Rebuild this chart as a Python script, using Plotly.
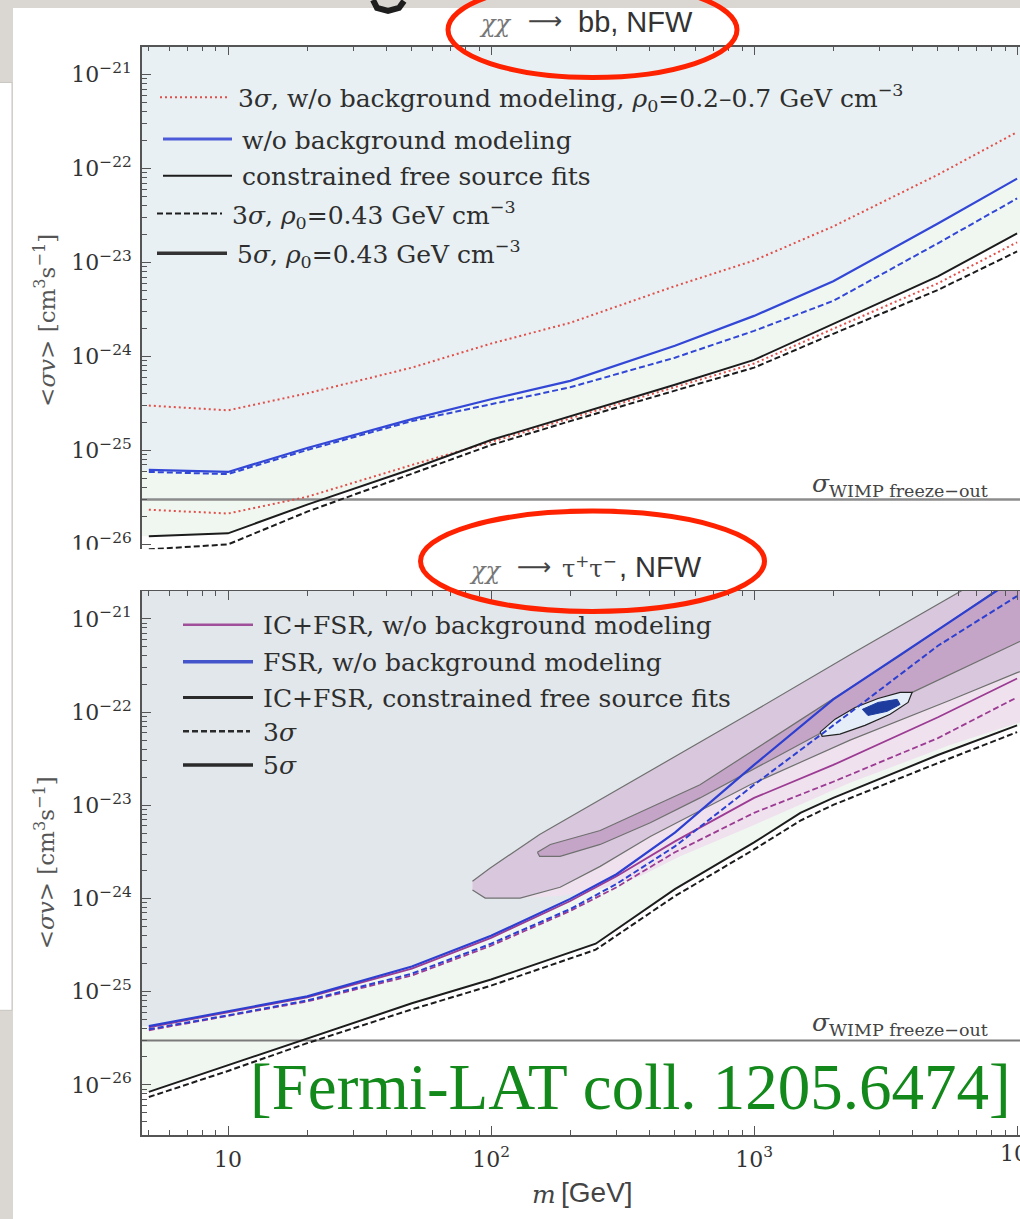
import plotly.graph_objects as go

W, H = 1020, 1219


def fx(x):
    return x / W


def fy(y):
    return 1 - y / H


# ---------------- χχ → bb, NFW ----------------
m_bb = [5, 10, 20, 50, 100, 200, 500, 1000, 2000, 5000, 10000]
bb_nobg_5s = [6.2e-26, 5.9e-26, 1.06e-25, 2.15e-25, 3.5e-25, 5.5e-25, 1.3e-24, 2.7e-24, 6.3e-24, 2.6e-23, 7.8e-23]
bb_nobg_3s = [5.9e-26, 5.6e-26, 1.01e-25, 2.05e-25, 3.1e-25, 4.7e-25, 9.7e-25, 1.87e-24, 3.9e-24, 1.6e-23, 4.8e-23]
bb_fit_5s = [1.22e-26, 1.31e-26, 2.65e-26, 6.35e-26, 1.29e-25, 2.31e-25, 5.0e-25, 9.2e-25, 2.22e-24, 7.1e-24, 2.04e-23]
bb_fit_3s = [8.85e-27, 1.0e-26, 2.23e-26, 5.6e-26, 1.14e-25, 2.05e-25, 4.35e-25, 7.6e-25, 1.74e-24, 5.1e-24, 1.31e-23]
bb_nobg_3s_rho02 = [3.0e-25, 2.67e-25, 4.05e-25, 7.6e-25, 1.37e-24, 2.28e-24, 5.6e-24, 1.05e-23, 2.42e-23, 8.6e-23, 2.44e-22]
bb_nobg_3s_rho07 = [2.34e-26, 2.13e-26, 3.21e-26, 7.0e-26, 1.23e-25, 2.2e-25, 4.7e-25, 8.4e-25, 1.97e-24, 6.0e-24, 1.64e-23]

# ---------------- χχ → τ+τ−, NFW ----------------
m_tt = [5, 10, 20, 50, 100, 200, 300, 500, 1000, 2000, 5000, 10000]
tt_fsr_5s = [4.26e-26, 6.15e-26, 8.9e-26, 1.86e-25, 3.97e-25, 9.9e-25, 1.82e-24, 5.1e-24, 2.71e-23, 1.37e-22, 7.6e-22, 2.8e-21]
tt_fsr_3s = [3.95e-26, 5.57e-26, 8.05e-26, 1.56e-25, 3.27e-25, 7.7e-25, 1.43e-24, 3.62e-24, 1.66e-23, 7.2e-23, 5.15e-22, 1.76e-21]
tt_icfsr_5s = [4.15e-26, 6.0e-26, 8.7e-26, 1.77e-25, 3.78e-25, 9.4e-25, 1.73e-24, 4.1e-24, 1.2e-23, 2.71e-23, 8.8e-23, 2.29e-22]
tt_icfsr_3s = [3.85e-26, 5.45e-26, 7.85e-26, 1.49e-25, 3.11e-25, 7.35e-25, 1.32e-24, 3.13e-24, 8.3e-24, 1.79e-23, 5.26e-23, 1.44e-22]
m_tt_fit = [5, 10, 20, 50, 100, 250, 500, 1000, 1500, 2000, 5000, 10000]
tt_fit_5s = [8.4e-27, 1.63e-26, 3.17e-26, 7.5e-26, 1.35e-25, 3.27e-25, 1.26e-24, 3.99e-24, 8.3e-24, 1.2e-23, 3.46e-23, 7.2e-23]
tt_fit_3s = [7.4e-27, 1.41e-26, 2.8e-26, 6.45e-26, 1.16e-25, 2.82e-25, 1.06e-24, 3.36e-24, 6.85e-24, 1.01e-23, 2.84e-23, 6.1e-23]

# Signal regions in the (m, <σv>) plane
outer_m = [85, 99, 153, 403, 966, 2317, 6070, 11200, 11200, 10000, 5560, 2317, 966, 403, 260, 183, 129, 95, 85]
outer_sv = [1.53e-24, 2.11e-24, 4.86e-24, 2.34e-23, 9.7e-23, 4.13e-22, 1.99e-21, 5.3e-21,
            3.0e-22, 2.65e-22, 1.34e-22, 5.0e-23, 1.66e-23, 4.62e-24, 2.21e-24, 1.32e-24, 1.01e-24, 1.01e-24, 1.23e-24]
pale_m = [85, 99, 153, 403, 966, 2317, 6070, 11200, 11200, 10000, 5560, 2317, 966, 524, 369, 260, 183, 129, 95, 85]
pale_sv = [1.53e-24, 2.11e-24, 4.86e-24, 2.34e-23, 9.7e-23, 4.13e-22, 1.99e-21, 5.3e-21,
           8.2e-23, 7.6e-23, 4.43e-23, 1.74e-23, 5.9e-24, 2.83e-24, 1.73e-24, 1.26e-24, 1.06e-24, 1.01e-24, 1.01e-24, 1.23e-24]
inner_m = [150, 168, 260, 623, 1496, 3590, 8240, 11200, 11200, 10000, 3920, 2317, 1120, 623, 403, 260, 183, 153, 150]
inner_sv = [3.13e-24, 3.8e-24, 5.36e-24, 1.66e-23, 8.2e-23, 4.03e-22, 1.99e-21, 3.67e-21,
            6.4e-22, 5.55e-22, 1.59e-22, 8.8e-23, 2.92e-23, 1.2e-23, 6.5e-24, 3.8e-24, 2.83e-24, 2.83e-24, 3.13e-24]
blob_m = [1782, 2032, 2421, 2960, 3590, 3990, 3850, 3290, 2640, 2120, 1815, 1782]
blob_sv = [6.1e-23, 8.4e-23, 1.12e-22, 1.40e-22, 1.63e-22, 1.63e-22, 1.27e-22, 9.5e-23, 7.2e-23, 5.8e-23, 5.5e-23, 6.1e-23]
core_m = [2580, 2960, 3500, 3590, 3210, 2710, 2580]
core_sv = [1.07e-22, 1.27e-22, 1.37e-22, 1.21e-22, 1.02e-22, 9.2e-23, 1.07e-22]

sv_freeze = 3e-26

y_ticks = [1e-26, 1e-25, 1e-24, 1e-23, 1e-22, 1e-21]
y_ticktext = ["10<sup>−26</sup>", "10<sup>−25</sup>", "10<sup>−24</sup>",
              "10<sup>−23</sup>", "10<sup>−22</sup>", "10<sup>−21</sup>"]
x_ticks = [10, 100, 1000, 10000]
x_ticktext = ["10", "10<sup>2</sup>", "10<sup>3</sup>", "10<sup>4</sup>"]

x_minor = [k * 10 ** e for e in range(0, 5) for k in range(2, 10)]
y_minor = [k * 10.0 ** e for e in range(-28, -20) for k in range(2, 10)]

SKY = "#e8f0f3"
SKY2 = "#e1e7ea"
MINT = "#f0f7f1"

fig = go.Figure()


def add(tr, panel):
    if panel == 2:
        tr.update(xaxis="x2", yaxis="y2")
    tr.update(hoverinfo="skip", showlegend=False)
    fig.add_trace(tr)


def above(xs, ys):
    return [4.5] + list(xs) + [11000, 11000, 4.5], [ys[0]] + list(ys) + [ys[-1], 1e-19, 1e-19]


# ---- upper panel ----
ax, ay = above(m_bb, bb_fit_5s)
add(go.Scatter(x=ax, y=ay, fill="toself", fillcolor=MINT, mode="lines", line=dict(width=0)), 1)
ax, ay = above(m_bb, bb_nobg_5s)
add(go.Scatter(x=ax, y=ay, fill="toself", fillcolor=SKY, mode="lines", line=dict(width=0)), 1)
add(go.Scatter(x=[4, 20000], y=[sv_freeze, sv_freeze], mode="lines", line=dict(color="#8c8c8c", width=2.5)), 1)
add(go.Scatter(x=m_bb, y=bb_fit_3s, mode="lines", line=dict(color="#1c1c1c", width=2, dash="6px,3px")), 1)
add(go.Scatter(x=m_bb, y=bb_nobg_3s_rho07, mode="lines", line=dict(color="#e0504a", width=2, dash="2px,3px")), 1)
add(go.Scatter(x=m_bb, y=bb_fit_5s, mode="lines", line=dict(color="#1c1c1c", width=2)), 1)
add(go.Scatter(x=m_bb, y=bb_nobg_3s_rho02, mode="lines", line=dict(color="#e0504a", width=2, dash="2px,3px")), 1)
add(go.Scatter(x=m_bb, y=bb_nobg_3s, mode="lines", line=dict(color="#3347d6", width=2, dash="6px,3px")), 1)
add(go.Scatter(x=m_bb, y=bb_nobg_5s, mode="lines", line=dict(color="#3347d6", width=2.2)), 1)

# ---- lower panel ----
ax, ay = above(m_tt_fit, tt_fit_5s)
add(go.Scatter(x=ax, y=ay, fill="toself", fillcolor=MINT, mode="lines", line=dict(width=0)), 2)
ax, ay = above(m_tt, tt_fsr_5s)
add(go.Scatter(x=ax, y=ay, fill="toself", fillcolor=SKY2, mode="lines", line=dict(width=0)), 2)
add(go.Scatter(x=pale_m, y=pale_sv, fill="toself", fillcolor="#efe2ee", mode="lines", line=dict(width=0)), 2)
add(go.Scatter(x=outer_m, y=outer_sv, fill="toself", fillcolor="#d9c8dd", mode="lines",
               line=dict(color="#707070", width=1.2)), 2)
add(go.Scatter(x=inner_m, y=inner_sv, fill="toself", fillcolor="#c4a4c7", mode="lines",
               line=dict(color="#707070", width=1.2)), 2)
add(go.Scatter(x=blob_m, y=blob_sv, fill="toself", fillcolor="#e4edf8", mode="lines",
               line=dict(color="#222", width=1.2)), 2)
add(go.Scatter(x=core_m, y=core_sv, fill="toself", fillcolor="#1d3c9e", mode="lines",
               line=dict(color="#1d3c9e", width=1)), 2)
add(go.Scatter(x=[4, 20000], y=[sv_freeze, sv_freeze], mode="lines", line=dict(color="#7a7a7a", width=2)), 2)
add(go.Scatter(x=m_tt_fit, y=tt_fit_3s, mode="lines", line=dict(color="#1c1c1c", width=2, dash="6px,3px")), 2)
add(go.Scatter(x=m_tt_fit, y=tt_fit_5s, mode="lines", line=dict(color="#1c1c1c", width=2)), 2)
add(go.Scatter(x=m_tt, y=tt_icfsr_3s, mode="lines", line=dict(color="#9c3b93", width=1.8, dash="6px,3px")), 2)
add(go.Scatter(x=m_tt, y=tt_icfsr_5s, mode="lines", line=dict(color="#9c3b93", width=1.8)), 2)
add(go.Scatter(x=m_tt, y=tt_fsr_3s, mode="lines", line=dict(color="#2d3fd0", width=2, dash="6px,3px")), 2)
add(go.Scatter(x=m_tt, y=tt_fsr_5s, mode="lines", line=dict(color="#2d3fd0", width=2.2)), 2)

SERIF = "DejaVu Serif"
SANS = "Liberation Sans"
tickfont = dict(family=SERIF, size=22, color="#333")
axis_common = dict(type="log", showline=True, linecolor="#555", linewidth=1.5, ticks="inside",
                   tickcolor="#555", ticklen=9, tickwidth=1.3, showgrid=False, zeroline=False,
                   tickfont=tickfont)
x_range = [0.673, 4.011]

fig.update_layout(
    width=W, height=H, margin=dict(l=0, r=0, t=0, b=0),
    paper_bgcolor="#dad6d1", plot_bgcolor="#ffffff",
    xaxis=dict(axis_common, domain=[fx(142), 1], range=x_range, anchor="y", side="top",
               tickvals=x_ticks, showticklabels=False,
               minor=dict(ticks="inside", ticklen=5, tickcolor="#555", tickvals=x_minor)),
    yaxis=dict(axis_common, domain=[fy(553), fy(47)], range=[-26.053, -20.704], anchor="x",
               tickvals=y_ticks, ticktext=y_ticktext, ticklabelstandoff=4,
               minor=dict(ticks="inside", ticklen=5, tickcolor="#555", tickvals=y_minor)),
    xaxis2=dict(axis_common, domain=[fx(142), 1], range=x_range, anchor="y2", mirror="ticks",
                tickvals=x_ticks, ticktext=x_ticktext, ticklabelstandoff=4,
                minor=dict(ticks="inside", ticklen=5, tickcolor="#555", tickvals=x_minor)),
    yaxis2=dict(axis_common, domain=[fy(1142), fy(595)], range=[-26.533, -20.7015], anchor="x2",
                tickvals=y_ticks, ticktext=y_ticktext, ticklabelstandoff=4,
                minor=dict(ticks="inside", ticklen=5, tickcolor="#555", tickvals=y_minor)),
)

shapes = [
    # slide panels
    dict(type="rect", xref="paper", yref="paper", x0=fx(13), x1=1.01, y0=-0.01, y1=fy(8),
         fillcolor="#ffffff", line=dict(width=0), layer="below"),
    dict(type="rect", xref="paper", yref="paper", x0=-0.01, x1=fx(12), y0=fy(1017), y1=fy(83),
         fillcolor="#ffffff", line=dict(color="#c9c5c0", width=1), layer="below"),
    # gap between the two figures
    dict(type="rect", xref="paper", yref="paper", x0=fx(13), x1=1.01, y0=fy(594), y1=fy(553.5),
         fillcolor="#ffffff", line=dict(width=0), layer="above"),
    # fragment of the slide heading
    dict(type="path", xref="paper", yref="paper",
         path=(f"M {fx(373)} {fy(0)} L {fx(377)} {fy(8)} L {fx(388)} {fy(11)} "
               f"L {fx(399)} {fy(8)} L {fx(404)} {fy(1)}"),
         line=dict(color="#1e1e1e", width=6), layer="above"),
]

# legend samples
leg1 = [(160, 228, 98, "#e0504a", 2, "2px,3px"), (163, 232, 140, "#4a5ad8", 3, "solid"),
        (163, 232, 177, "#1c1c1c", 2, "solid"), (157, 222, 215, "#1c1c1c", 2, "6px,3px"),
        (157, 227, 255, "#333333", 3.5, "solid")]
leg2 = [(183, 253, 629, "#a0509a", 2.5, "solid"), (183, 253, 666, "#4455cc", 3.5, "solid"),
        (183, 253, 702, "#2a2a2a", 3, "solid"), (183, 250, 736, "#2a2a2a", 2.5, "6px,3px"),
        (183, 253, 770, "#2a2a2a", 3.5, "solid")]
for x0, x1, y, c, w, d in leg1 + leg2:
    shapes.append(dict(type="line", xref="paper", yref="paper", x0=fx(x0), x1=fx(x1), y0=fy(y), y1=fy(y),
                       line=dict(color=c, width=w, dash=d), layer="above"))

# highlight ellipses
for x0, x1, y0, y1 in [(448, 737, -18, 78), (420.5, 764.5, 514.5, 615.5)]:
    shapes.append(dict(type="circle", xref="paper", yref="paper", x0=fx(x0), x1=fx(x1), y0=fy(y1), y1=fy(y0),
                       line=dict(color="#ff2200", width=5), layer="above"))

fig.update_layout(shapes=shapes)

ann = []


def text(x, y, s, size, family=SERIF, color="#2e2e2e", xanchor="left", angle=0):
    ann.append(dict(x=fx(x), y=fy(y), xref="paper", yref="paper", text=s, showarrow=False,
                    xanchor=xanchor, yanchor="middle", textangle=angle,
                    font=dict(family=family, size=size, color=color)))


leg1_text = ["3<i>σ</i>, w/o background modeling, <i>ρ</i><sub>0</sub>=0.2–0.7 GeV cm<sup>−3</sup>",
             "w/o background modeling", "constrained free source fits",
             "3<i>σ</i>, <i>ρ</i><sub>0</sub>=0.43 GeV cm<sup>−3</sup>",
             "5<i>σ</i>, <i>ρ</i><sub>0</sub>=0.43 GeV cm<sup>−3</sup>"]
for (x0, x1, y, *_), s in zip(leg1, leg1_text):
    text(x1 + 8, y + 1, s, 25)
leg2_text = ["IC+FSR, w/o background modeling", "FSR, w/o background modeling",
             "IC+FSR, constrained free source fits", "3<i>σ</i>", "5<i>σ</i>"]
for (x0, x1, y, *_), s in zip(leg2, leg2_text):
    text(261, y + 1, s, 25)

# panel headings
text(495, 24, "<i>χχ</i>", 24, color="#777", xanchor="center")
text(545, 21, "⟶", 24, family="DejaVu Sans", color="#444", xanchor="center")
text(576, 22, "bb, NFW", 29, family=SANS, color="#333")
text(485, 575, "<i>χχ</i>", 24, color="#777", xanchor="center")
text(534, 571, "⟶", 24, family="DejaVu Sans", color="#444", xanchor="center")
text(589, 571, "τ<sup>+</sup>τ<sup>−</sup>", 24, color="#444", xanchor="center")
text(617, 571, ", NFW", 29, family=SANS, color="#333")

# freeze-out labels
text(990, 488, "<i>σ</i><sub>WIMP freeze−out</sub>", 25, color="#444", xanchor="right")
text(990, 1031, "<i>σ</i><sub>WIMP freeze−out</sub>", 25, color="#444", xanchor="right")

# last decade label sits on the page edge
text(1019, 1160, "10<sup>4</sup>", 22, color="#333", xanchor="center")

# axis titles
ytitle = "&lt;<i>σv</i>&gt; [cm<sup>3</sup>s<sup>−1</sup>]"
text(45, 323, ytitle, 23, color="#555", xanchor="center", angle=-90)
text(45, 869, ytitle, 23, color="#555", xanchor="center", angle=-90)
text(544, 1202, "<i>m</i>", 25, color="#444", xanchor="center")
text(559, 1200, "[GeV]", 28, family=SANS, color="#444")

# citation
text(1013, 1094, "[Fermi-LAT coll. 1205.6474]", 65, family="Liberation Serif", color="#12891a", xanchor="right")

fig.update_layout(annotations=ann)

fig.write_html("out.html")
